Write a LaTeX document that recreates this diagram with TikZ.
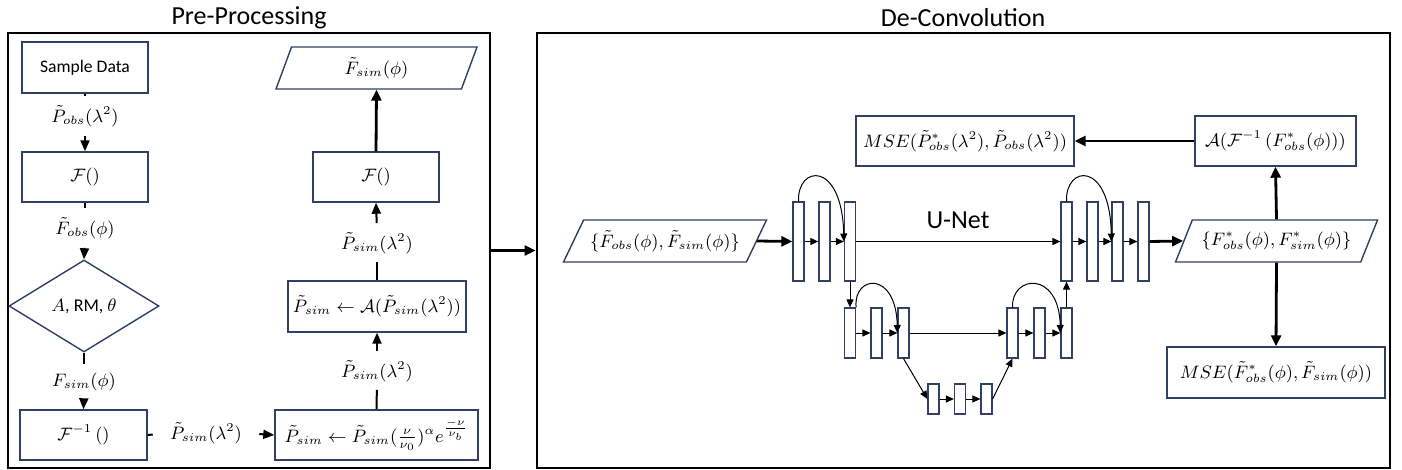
\documentclass[tikz,border=0pt]{standalone}
\usepackage{fontspec}
\setmainfont{Carlito}
\usetikzlibrary{arrows.meta,shapes.geometric}
\definecolor{navy}{HTML}{2F3F66}
\newcommand\mfont{\fontsize{9}{11}\selectfont}
\begin{document}
\begin{tikzpicture}[x=0.5pt,y=-0.5pt,
  frame/.style={draw=black, line width=1.4pt, rectangle, inner sep=0pt},
  ttl/.style={font=\fontsize{13}{15}\selectfont},
  box/.style={draw=navy, line width=0.7pt, fill=white, rectangle, inner sep=0pt, font=\mfont},
  para/.style={draw=navy, line width=0.7pt, fill=white, trapezium, trapezium stretches body, inner sep=0pt, font=\mfont},
  dia/.style={draw=navy, line width=0.7pt, diamond, inner sep=0pt, font=\mfont},
  bar/.style={draw=navy, line width=0.6pt, fill=white, rectangle, inner sep=0pt, minimum width=5.5pt},
  lab/.style={inner sep=0pt, font=\mfont},
  ua/.style={-{Triangle[length=4pt,width=3.5pt]}, line width=0.5pt},
  la/.style={-{Triangle[length=5.5pt,width=4.5pt]}, line width=1pt},
  ln/.style={line width=1pt},
  ta/.style={-{Triangle[length=5.5pt,width=5pt]}, line width=1.4pt}
]
\useasboundingbox (0,0) rectangle (1402,470);
% frames and titles
\node[frame, minimum width=241pt, minimum height=217.5pt] (pre) at (249,250.5) {};
\node[frame, minimum width=426.5pt, minimum height=217.5pt] (dec) at (963.5,250.5) {};
\node[ttl] (tpre) at (249,18) {Pre-Processing};
\node[ttl] (tdec) at (963,18) {De-Convolution};
\draw[ta] (pre.east) -- (dec.west);

% ---------- Pre-processing ----------
\node[box, minimum width=63pt, minimum height=25.5pt, font=\fontsize{8.8}{10}\selectfont] (sd) at (85,67.5) {Sample Data};
\node[lab] (l1) at (85,116) {$\tilde{P}_{obs}(\lambda^2)$};
\node[box, minimum width=63pt, minimum height=25pt] (f1) at (85,177) {$\mathcal{F}()$};
\node[lab] (l2) at (85,228) {$\tilde{F}_{obs}(\phi)$};
\node[dia, minimum width=75pt, minimum height=46pt] (rm) at (84,306) {$A$, RM, $\theta$};
\node[lab] (l3) at (84,382) {$F_{sim}(\phi)$};
\node[box, minimum width=63.5pt, minimum height=25pt] (fi) at (83.5,435) {$\mathcal{F}^{-1}\,()$};
\node[lab] (l4) at (206,433) {$\tilde{P}_{sim}(\lambda^2)$};
\node[box, minimum width=101.5pt, minimum height=25pt] (pw) at (376.5,435) {$\tilde{P}_{sim}\leftarrow\tilde{P}_{sim}(\frac{\nu}{\nu_0})^{\alpha}e^{\frac{-\nu}{\nu_b}}$};
\node[lab] (l5) at (377,371) {$\tilde{P}_{sim}(\lambda^2)$};
\node[box, minimum width=89pt, minimum height=25.5pt] (pa) at (377,306.5) {$\tilde{P}_{sim}\leftarrow\mathcal{A}(\tilde{P}_{sim}(\lambda^2))$};
\node[lab] (l6) at (377,243) {$\tilde{P}_{sim}(\lambda^2)$};
\node[box, minimum width=63pt, minimum height=25pt] (f2) at (376,177) {$\mathcal{F}()$};
\node[para, trapezium left angle=53.6, trapezium right angle=126.4, minimum width=100.5pt, minimum height=21pt] (fs) at (376.5,68) {$\tilde{F}_{sim}(\phi)$};

\draw[ln, shorten >=4.5pt] (sd.south) -- (l1.north);
\draw[la, shorten <=4.5pt] (l1.south) -- (f1.north);
\draw[ln, shorten >=4.5pt] (f1.south) -- (l2.north);
\draw[la, shorten <=4.5pt] (l2.south) -- (rm.north);
\draw[ln, shorten >=4.5pt] (rm.south) -- (l3.north);
\draw[la, shorten <=4.5pt] (l3.south) -- (fi.north);
\draw[ln, shorten >=8.5pt] (fi.east) -- (l4.west);
\draw[la, shorten <=8.5pt] (l4.east) -- (pw.west);
\draw[ln, shorten >=4pt] (pw.north) -- (l5.south);
\draw[la, shorten <=4.5pt] (l5.north) -- (pa.south);
\draw[ln, shorten >=4pt] (pa.north) -- (l6.south);
\draw[la, shorten <=4.5pt] (l6.north) -- (f2.south);
\draw[ta] (f2.north) -- (fs.south);

% ---------- De-convolution ----------
\node[para, trapezium left angle=46.4, trapezium right angle=133.6, minimum width=101.5pt, minimum height=21pt] (in) at (665,241) {$\{\tilde{F}_{obs}(\phi),\tilde{F}_{sim}(\phi)\}$};
\node[para, trapezium left angle=47, trapezium right angle=133, minimum width=101pt, minimum height=21pt] (out) at (1276.5,241) {$\{F^{*}_{obs}(\phi),F^{*}_{sim}(\phi)\}$};
\node[box, minimum width=80.5pt, minimum height=25pt] (ab) at (1275.5,141) {$\mathcal{A}(\mathcal{F}^{-1}\,(F^{*}_{obs}(\phi)))$};
\node[box, minimum width=109pt, minimum height=25pt] (m1) at (965,141) {$MSE(\tilde{P}^{*}_{obs}(\lambda^2),\tilde{P}_{obs}(\lambda^2))$};
\node[box, minimum width=109pt, minimum height=25.5pt] (m2) at (1276,372.5) {$MSE(\tilde{F}^{*}_{obs}(\phi),\tilde{F}_{sim}(\phi))$};
\node[ttl] (un) at (958,220) {U-Net};

% bars level 1 (left)
\node[bar, minimum height=39.5pt] (a1) at (798.5,241.5) {};
\node[bar, minimum height=39.5pt] (a2) at (824.5,241.5) {};
\node[bar, minimum height=39.5pt] (a3) at (850,241.5) {};
% level 2 (left)
\node[bar, minimum height=25pt] (b1) at (850,333) {};
\node[bar, minimum height=25pt] (b2) at (876.5,333) {};
\node[bar, minimum height=25pt] (b3) at (903.5,333) {};
% level 3
\node[bar, minimum height=15pt] (c1) at (933.5,399) {};
\node[bar, minimum height=15pt] (c2) at (960,399) {};
\node[bar, minimum height=15pt] (c3) at (986.5,399) {};
% level 2 (right)
\node[bar, minimum height=25pt] (d1) at (1012.5,333) {};
\node[bar, minimum height=25pt] (d2) at (1039.5,333) {};
\node[bar, minimum height=25pt] (d3) at (1066.5,333) {};
% level 1 (right)
\node[bar, minimum height=39.5pt] (e1) at (1066.5,241.5) {};
\node[bar, minimum height=39.5pt] (e2) at (1092.5,241.5) {};
\node[bar, minimum height=39.5pt] (e3) at (1117.5,241.5) {};
\node[bar, minimum height=39.5pt] (e4) at (1143.5,241.5) {};

\draw[ta] (in.east) -- (a1.west);
\draw[ua] (a1.east) -- (a2.west);
\draw[ua] (a2.east) -- (a3.west);
\draw[ua] (a1.north) .. controls (797,165) and (842,160) .. (a3.west);
\draw[ua] (a3.east) -- (e1.west);
\draw[ua] (a3.south) -- (b1.north);
\draw[ua] (b1.east) -- (b2.west);
\draw[ua] (b2.east) -- (b3.west);
\draw[ua] (b1.north east) .. controls (853,275) and (896,270) .. (b3.west);
\draw[ua] (b3.east) -- (d1.west);
\draw[ua] (b3.south) -- (c1.west);
\draw[ua] (c1.east) -- (c2.west);
\draw[ua] (c2.east) -- (c3.west);
\draw[ua] (c3.east) -- (d1.south);
\draw[ua] (d1.east) -- (d2.west);
\draw[ua] (d2.east) -- (d3.west);
\draw[ua] (d1.north) .. controls (1011,275) and (1059,270) .. (d3.west);
\draw[ua] (d3.north) -- (e1.south);
\draw[ua] (e1.east) -- (e2.west);
\draw[ua] (e2.east) -- (e3.west);
\draw[ua] (e3.east) -- (e4.west);
\draw[ua] (e1.north) .. controls (1065,165) and (1110,160) .. (e3.west);
\draw[ta] (e4.east) -- (out.west);
\draw[ta] (out.north) -- (ab.south);
\draw[ta] (ab.west) -- (m1.east);
\draw[ta] (out.south) -- (m2.north);
\end{tikzpicture}
\end{document}
